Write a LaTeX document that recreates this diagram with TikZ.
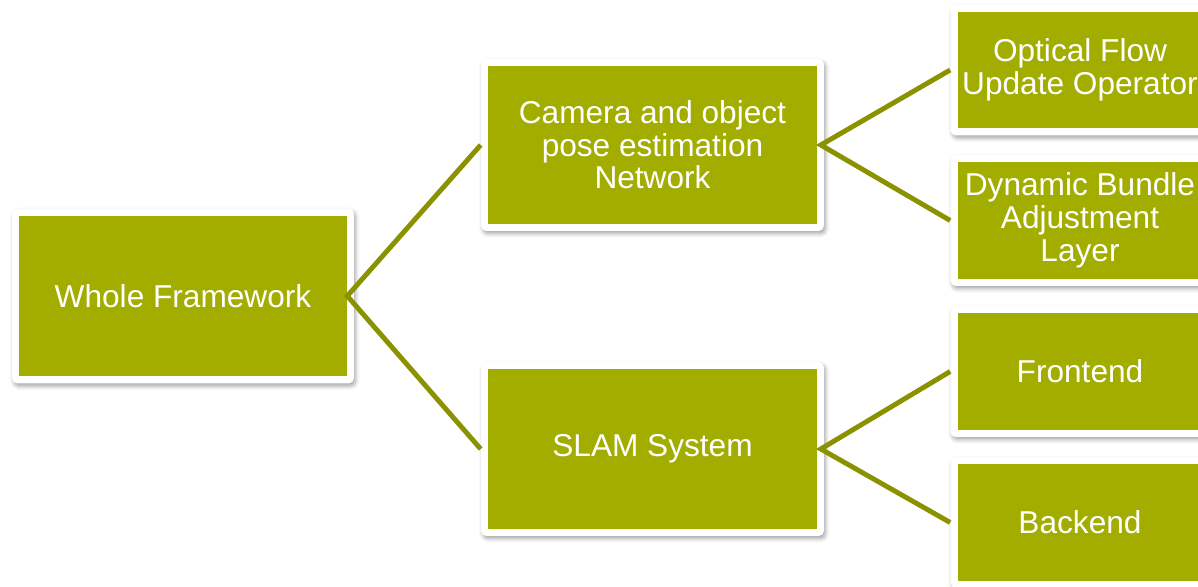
\documentclass[tikz,border=0pt]{standalone}
\usepackage{fontspec}
\setmainfont{Liberation Sans}
\definecolor{boxgreen}{RGB}{163, 173, 0}
\definecolor{linkolive}{RGB}{138, 146, 0}
\usetikzlibrary{positioning, shadows.blur}

\tikzset{
  block/.style={fill=white, rounded corners=3pt, inner sep=0pt, align=center,
    font=\fontsize{18}{18.6}\selectfont, text=white,
    blur shadow={shadow xshift=1pt, shadow yshift=-1.6pt, shadow blur radius=2.2pt, shadow opacity=35},
    path picture={\fill[boxgreen, sharp corners] ([shift={(4.2pt,4.2pt)}]path picture bounding box.south west)
      rectangle ([shift={(-4.2pt,-4.2pt)}]path picture bounding box.north east);}},
  link/.style={draw=linkolive, line width=2.8pt}
}

\begin{document}
\begin{tikzpicture}[x=0.02cm, y=-0.02cm]
  \useasboundingbox (0,0) rectangle (1198,587);
  \clip (0,0) rectangle (1198,587);

  % Root
  \node[block, minimum width=6.84cm, minimum height=3.5cm] (whole) at (183, 296) {Whole Framework};

  % Second level
  \node[block, minimum width=6.86cm, minimum height=3.44cm] (cam) at (652.5, 145) {Camera and object\\pose estimation\\Network};
  \node[block, minimum width=6.86cm, minimum height=3.48cm] (slam) at (652.5, 449) {SLAM System};

  % Third level
  \node[block, minimum width=5.18cm, minimum height=2.62cm] (flow) at (1080, 70) {Optical Flow\\Update Operator};
  \node[block, minimum width=5.18cm, minimum height=2.62cm] (dba) at (1080, 220.5) {Dynamic Bundle\\Adjustment\\Layer};
  \node[block, minimum width=5.18cm, minimum height=2.62cm] (front) at (1080, 371.5) {Frontend};
  \node[block, minimum width=5.18cm, minimum height=2.62cm] (back) at (1080, 522.5) {Backend};

  % Connectors
  \draw[link] (cam.west) -- ([xshift=-4pt]whole.east) -- (slam.west);
  \draw[link] (flow.west) -- ([xshift=-2pt]cam.east) -- (dba.west);
  \draw[link] (front.west) -- ([xshift=-2pt]slam.east) -- (back.west);
\end{tikzpicture}
\end{document}
